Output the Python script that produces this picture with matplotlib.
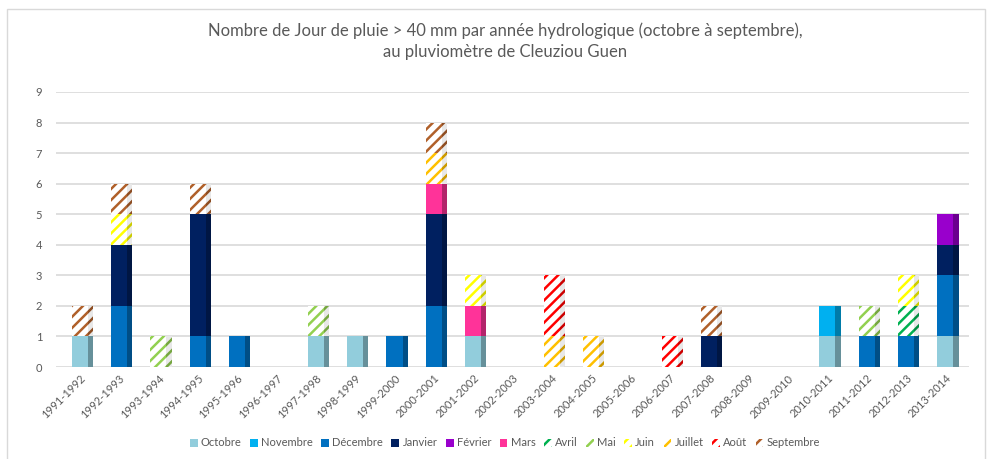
import matplotlib
matplotlib.use("Agg")
import matplotlib.pyplot as plt
import matplotlib.colors as mcolors
from matplotlib.patches import Rectangle, Patch
import numpy as np

plt.rcParams['font.family'] = ['Lato', 'DejaVu Sans']
plt.rcParams['hatch.linewidth'] = 1.8

years = ["1991-1992", "1992-1993", "1993-1994", "1994-1995", "1995-1996", "1996-1997",
         "1997-1998", "1998-1999", "1999-2000", "2000-2001", "2001-2002", "2002-2003",
         "2003-2004", "2004-2005", "2005-2006", "2006-2007", "2007-2008", "2008-2009",
         "2009-2010", "2010-2011", "2011-2012", "2012-2013", "2013-2014"]

months = ["Octobre", "Novembre", "Décembre", "Janvier", "Février", "Mars",
          "Avril", "Mai", "Juin", "Juillet", "Août", "Septembre"]

octobre   = [1, 0, 0, 0, 0, 0, 1, 1, 0, 0, 1, 0, 0, 0, 0, 0, 0, 0, 0, 1, 0, 0, 1]
novembre  = [0, 0, 0, 0, 0, 0, 0, 0, 0, 0, 0, 0, 0, 0, 0, 0, 0, 0, 0, 1, 0, 0, 0]
decembre  = [0, 2, 0, 1, 1, 0, 0, 0, 1, 2, 0, 0, 0, 0, 0, 0, 0, 0, 0, 0, 1, 1, 2]
janvier   = [0, 2, 0, 4, 0, 0, 0, 0, 0, 3, 0, 0, 0, 0, 0, 0, 1, 0, 0, 0, 0, 0, 1]
fevrier   = [0, 0, 0, 0, 0, 0, 0, 0, 0, 0, 0, 0, 0, 0, 0, 0, 0, 0, 0, 0, 0, 0, 1]
mars      = [0, 0, 0, 0, 0, 0, 0, 0, 0, 1, 1, 0, 0, 0, 0, 0, 0, 0, 0, 0, 0, 0, 0]
avril     = [0, 0, 0, 0, 0, 0, 0, 0, 0, 0, 0, 0, 0, 0, 0, 0, 0, 0, 0, 0, 0, 1, 0]
mai       = [0, 0, 1, 0, 0, 0, 1, 0, 0, 0, 0, 0, 0, 0, 0, 0, 0, 0, 0, 0, 1, 0, 0]
juin      = [0, 1, 0, 0, 0, 0, 0, 0, 0, 0, 1, 0, 0, 0, 0, 0, 0, 0, 0, 0, 0, 1, 0]
juillet   = [0, 0, 0, 0, 0, 0, 0, 0, 0, 1, 0, 0, 1, 1, 0, 0, 0, 0, 0, 0, 0, 0, 0]
aout      = [0, 0, 0, 0, 0, 0, 0, 0, 0, 0, 0, 0, 2, 0, 0, 1, 0, 0, 0, 0, 0, 0, 0]
septembre = [1, 1, 0, 1, 0, 0, 0, 0, 0, 1, 0, 0, 0, 0, 0, 0, 1, 0, 0, 0, 0, 0, 0]

series = [octobre, novembre, decembre, janvier, fevrier, mars,
          avril, mai, juin, juillet, aout, septembre]
colors = ["#92CDDC", "#00B0F0", "#0070C0", "#002060", "#9900CC", "#FF3399",
          "#00B050", "#92D050", "#FFFF00", "#FFC000", "#FF0000", "#B0602A"]
hatched = [False] * 6 + [True] * 6

title = ("Nombre de Jour de pluie > 40 mm par année hydrologique (octobre à septembre),\n"
         "au pluviomètre de Cleuziou Guen")

text_col = "#595959"

fig = plt.figure(figsize=(9.92, 4.59), dpi=100)
ax = fig.add_axes([0.0, 0.0, 1.0, 1.0])
W, H = 992, 459
ax.set_position([56 / W, (H - 367) / H, (969 - 56) / W, (367 - 92) / H])

# chart border
fig.patches.append(Rectangle((7 / W, -0.05), (985 - 7) / W, (H - 9) / H + 0.05,
                             transform=fig.transFigure, fill=False,
                             edgecolor="#D9D9D9", linewidth=1.0))

x = np.arange(len(years))
bw = 0.41
sw = 0.13
bottom = np.zeros(len(years))


def darker(c, f=0.7):
    r, g, b = mcolors.to_rgb(c)
    return (r * f, g * f, b * f)


for vals, col, hat in zip(series, colors, hatched):
    vals = np.array(vals, dtype=float)
    if hat:
        ax.bar(x, vals, bw, bottom=bottom, color="white", edgecolor=col,
               hatch="///", linewidth=0, zorder=3)
        ax.bar(x + bw / 2 + sw / 2, vals, sw, bottom=bottom, color="#E8E8E8",
               edgecolor=darker(col, 0.8), hatch="///", linewidth=0, zorder=3)
    else:
        ax.bar(x, vals, bw, bottom=bottom, color=col, linewidth=0, zorder=3)
        ax.bar(x + bw / 2 + sw / 2, vals, sw, bottom=bottom,
               color=darker(col, 0.7), linewidth=0, zorder=3)
    bottom += vals

ax.set_xlim(-0.6, len(years) - 0.4)
ax.set_ylim(0, 9)
ax.set_yticks(range(0, 10))
ax.yaxis.grid(True, color="#D9D9D9", linewidth=1.2, zorder=0)
ax.set_axisbelow(True)
for s in ax.spines.values():
    s.set_visible(False)
ax.tick_params(axis="y", length=0, pad=10, labelsize=8, labelcolor=text_col)
ax.tick_params(axis="x", length=0, pad=4, labelsize=8, labelcolor=text_col)
ax.set_xticks(x)
ax.set_xticklabels(years, rotation=45, ha="right", rotation_mode="anchor")

fig.text(505 / W, 1 - 41 / H, title, ha="center", va="center", fontsize=12,
         color=text_col, linespacing=1.4)

handles = []
for m, col, hat in zip(months, colors, hatched):
    if hat:
        handles.append(Patch(facecolor="white", edgecolor=col, hatch="///",
                             linewidth=0, label=m))
    else:
        handles.append(Patch(facecolor=col, edgecolor="none", label=m))
fig.legend(handles=handles, loc="center", bbox_to_anchor=(505 / W, 1 - 443 / H),
           ncol=12, frameon=False, fontsize=8, handlelength=0.7, handleheight=0.7,
           handletextpad=0.3, columnspacing=0.75, labelcolor=text_col)

fig.savefig("out.png", dpi=100)
